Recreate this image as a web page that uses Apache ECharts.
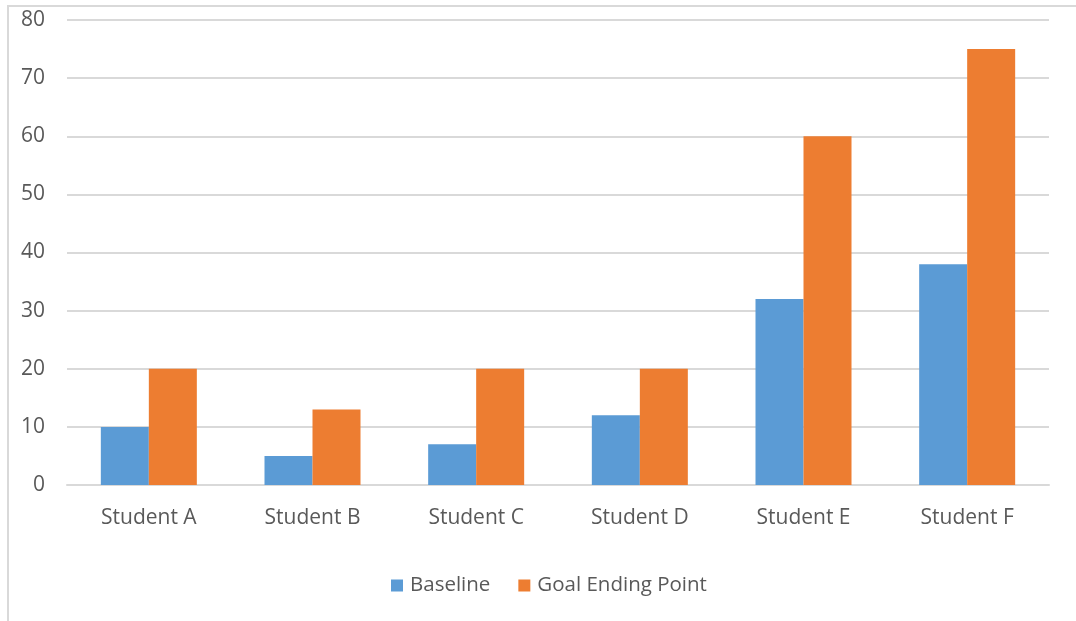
<!DOCTYPE html>
<html>
<head>
<meta charset="utf-8">
<script src="https://cdn.jsdelivr.net/npm/echarts@6/dist/echarts.min.js"></script>
<style>
  html, body { margin: 0; padding: 0; background: #fff; }
  #chart { width: 1076px; height: 621px; }
</style>
</head>
<body>
<div id="chart"></div>
<script>
const categories = ['Student A', 'Student B', 'Student C', 'Student D', 'Student E', 'Student F']
const baseline = [10, 5, 7, 12, 32, 38]
const goalEnding = [20, 13, 20, 20, 60, 75]
const yTicks = { min: 0, max: 80, interval: 10 }

const chart = echarts.init(document.getElementById('chart'))
const textColor = '#595959'
const font = '"Open Sans", "Noto Sans", sans-serif'

chart.setOption({
  animation: false,
  textStyle: { fontFamily: font },
  graphic: [
    {
      type: 'rect',
      shape: { x: 8, y: 6, width: 1100, height: 700 },
      style: { fill: 'none', stroke: '#d9d9d9', lineWidth: 2 },
      silent: true
    }
  ],
  legend: {
    top: 570,
    left: 386,
    itemWidth: 12,
    itemHeight: 12,
    itemGap: 28,
    icon: 'rect',
    textStyle: { color: textColor, fontSize: 20.5, fontFamily: font, padding: [0, 0, 0, 2] }
  },
  grid: {
    left: 67,
    right: 27,
    top: 20,
    bottom: 136
  },
  xAxis: {
    type: 'category',
    data: categories,
    axisLine: { lineStyle: { color: '#d9d9d9', width: 2 } },
    axisTick: { show: false },
    axisLabel: { color: textColor, fontSize: 21, margin: 23, fontFamily: font }
  },
  yAxis: {
    type: 'value',
    min: yTicks.min,
    max: yTicks.max,
    interval: yTicks.interval,
    axisLine: { show: false },
    axisTick: { show: false },
    splitLine: { lineStyle: { color: '#d9d9d9', width: 2 } },
    axisLabel: { color: textColor, fontSize: 21, margin: 22, fontFamily: font }
  },
  series: [
    {
      name: 'Baseline',
      type: 'bar',
      data: baseline,
      barWidth: 48,
      barGap: '0%',
      itemStyle: { color: '#5B9BD5' }
    },
    {
      name: 'Goal Ending Point',
      type: 'bar',
      data: goalEnding,
      barWidth: 48,
      barGap: '0%',
      itemStyle: { color: '#ED7D31' }
    }
  ]
})
</script>
</body>
</html>
